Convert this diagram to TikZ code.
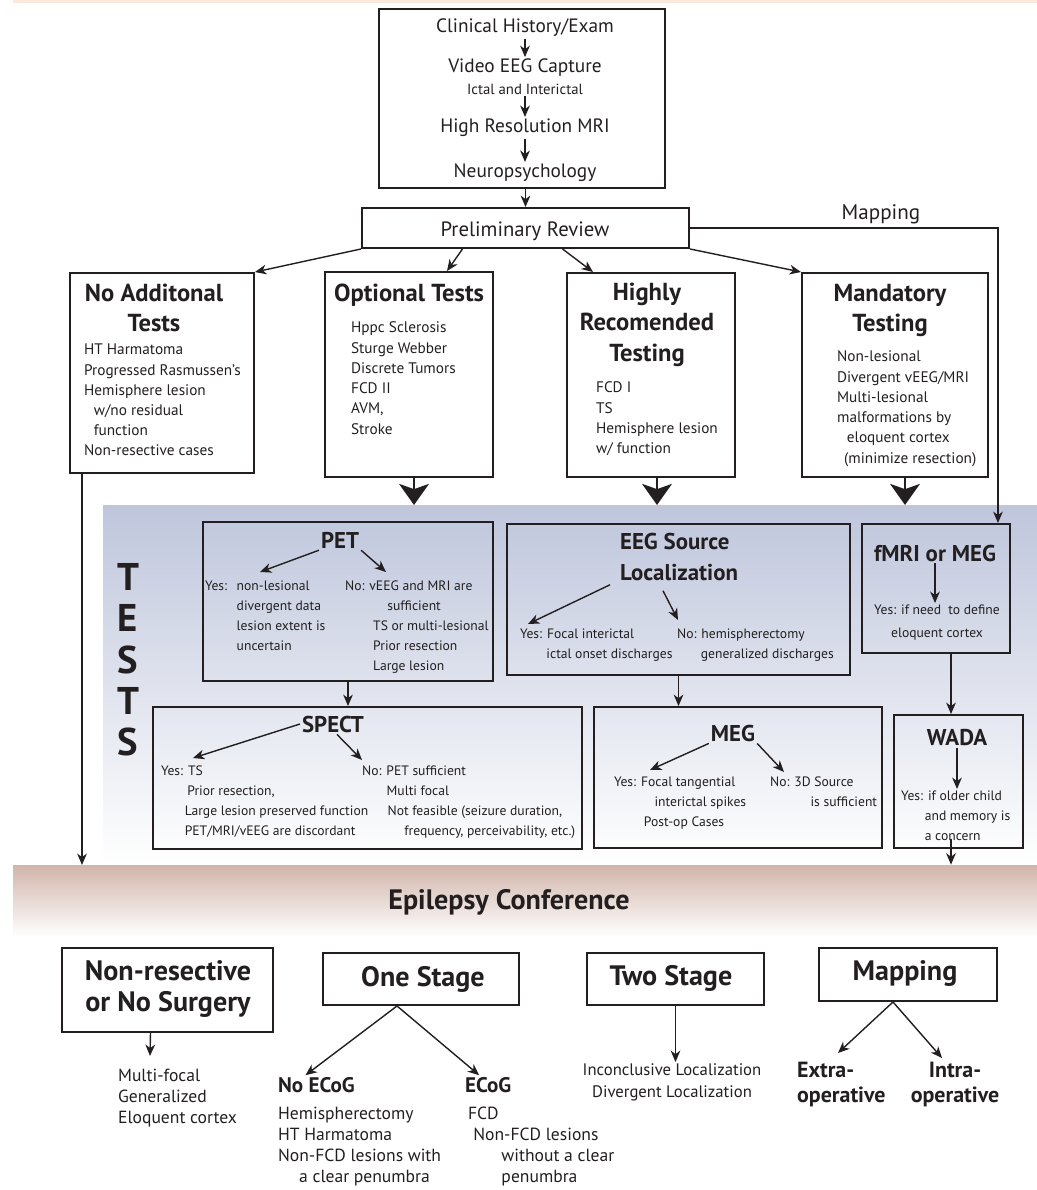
\documentclass[tikz,border=0pt]{standalone}
\usepackage{fontspec}
\setmainfont{PT Sans}
\usetikzlibrary{arrows.meta,positioning,fit,calc}

\definecolor{ink}{RGB}{35,31,32}
\definecolor{testblue}{RGB}{191,198,220}
\definecolor{confrose}{RGB}{209,181,171}
\definecolor{peach}{RGB}{250,232,220}
\newcommand\indt[1]{\hspace*{#1}}

\begin{document}
\begin{tikzpicture}[x=0.02cm,y=-0.02cm,>={Stealth[length=6.5pt,width=5.5pt,inset=2pt]},
  box/.style={draw=ink,line width=1.1pt,inner sep=0pt},
  arr/.style={->,draw=ink,line width=0.8pt},
  bigarr/.style={-{Stealth[length=12pt,width=17pt,inset=3pt]},draw=ink,line width=1.1pt},
  toptxt/.style={text=ink,inner sep=1pt,font=\fontsize{11}{14}\selectfont},
  cathead/.style={text=ink,inner sep=1pt,anchor=north,align=center,font=\bfseries\fontsize{14}{17.3}\selectfont},
  testhead/.style={text=ink,inner sep=1pt,font=\bfseries\fontsize{13}{17.6}\selectfont},
  body/.style={text=ink,inner sep=1pt,anchor=north west,align=left,font=\fontsize{8.7}{11.5}\selectfont},
  tbody/.style={body,font=\fontsize{7.75}{11.4}\selectfont},
  outlbl/.style={text=ink,inner sep=1pt,align=center,font=\bfseries\fontsize{16}{17.6}\selectfont},
  outlist/.style={text=ink,inner sep=1pt,anchor=north west,align=left,font=\fontsize{10}{12}\selectfont},
  outhead/.style={text=ink,inner sep=1pt,anchor=west,font=\bfseries\fontsize{12}{14}\selectfont}]
\useasboundingbox (0,0) rectangle (1037,1190);

% bands
\fill[peach] (13,0) rectangle (1037,3);
\node[fit={(103,505) (1037,863)},inner sep=0pt,top color=testblue,bottom color=white] (tests) {};
\node[fit={(13,865) (1037,937)},inner sep=0pt,top color=confrose,bottom color=white] (conf) {};
\node[text=ink,font=\bfseries\fontsize{16}{18}\selectfont] (conflbl) at (509,902) {Epilepsy Conference};
\node[text=ink,align=center,font=\bfseries\fontsize{22}{23.5}\selectfont] (testslbl) at (128,660) {T\\E\\S\\T\\S};

% work-up
\node[box,fit={(379,9) (665,188)}] (exam) {};
\node[toptxt] (hist) at (525,28) {Clinical History/Exam};
\node[toptxt] (veeg) at (525,68) {Video EEG Capture};
\node[toptxt,font=\fontsize{8.4}{10}\selectfont] (ictal) at (525,89) {Ictal and Interictal};
\node[toptxt] (mri) at (525,128) {High Resolution MRI};
\node[toptxt] (neuro) at (525,173) {Neuropsychology};
\draw[arr] (hist) -- (veeg);
\draw[arr] (ictal) -- (mri);
\draw[arr] (mri) -- (neuro);

\node[box,fit={(362,208) (689,248)}] (pr) {};
\node[toptxt,font=\fontsize{11.8}{14}\selectfont] (prlbl) at (525,231) {Preliminary Review};
\draw[arr] (exam.south -| pr.north) -- (pr.north);

% categories
\node[box,fit={(70,273) (254,473)}] (noadd) {};
\node[cathead] (noaddhd) at (154,282) {No Additonal\\Tests};
\node[body] (noaddtx) at (82,342) {HT Harmatoma\\Progressed Rasmussen's\\Hemisphere lesion\\\indt{5.5pt}w/no residual\\\indt{5.5pt}function\\Non-resective cases};

\node[box,fit={(325,272) (493,477)}] (opt) {};
\node[cathead] (opthd) at (409,282) {Optional Tests};
\node[body] (opttx) at (349,320) {Hppc Sclerosis\\Sturge Webber\\Discrete Tumors\\FCD II\\AVM,\\Stroke};

\node[box,fit={(567,273) (735,477)}] (high) {};
\node[cathead] (highhd) at (647,281) {Highly\\Recomended\\Testing};
\node[body] (hightx) at (594,380) {FCD I\\TS\\Hemisphere lesion\\w/ function};

\node[box,fit={(802,273) (988,477)}] (mand) {};
\node[cathead] (mandhd) at (890,282) {Mandatory\\Testing};
\node[body] (mandtx) at (835,349) {Non-lesional\\Divergent vEEG/MRI\\Multi-lesional\\malformations by\\\indt{5.5pt}eloquent cortex\\\indt{4pt}(minimize resection)};

\draw[arr] (pr.south west) -- (noadd.north east);
\draw[arr] ($(pr.south)+(-63,0)$) -- ($(opt.north)+(38,0)$);
\draw[arr] ($(pr.south)+(37,0)$) -- ($(high.north)+(-58,0)$);
\draw[arr] (pr.south east) -- (mand.north west);

\coordinate (noaddend) at (82,865);
\draw[arr] (noadd.south -| noaddend) -- (noaddend);

\foreach \b/\dx in {opt/5,high/6,mand/10}
  \draw[bigarr] ($(\b.south)+(\dx,0)$) -- ($(\b.south)+(\dx,27)$);

% tests
\node[box,fit={(203,522) (493,681)}] (pet) {};
\node[testhead] (pethd) at (340,540) {PET};
\node[tbody] (petyes) at (203,579) {\makebox[18pt][l]{Yes:}non-lesional\\\indt{18pt}divergent data\\\indt{18pt}lesion extent is\\\indt{18pt}uncertain};
\node[tbody] (petno) at (343,579) {No: vEEG and MRI are\\\indt{24pt}sufficient\\\indt{16pt}TS or multi-lesional\\\indt{16pt}Prior resection\\\indt{16pt}Large lesion};
\draw[arr] (pethd.south west) -- ($(petyes.north west)+(57,-7)$);
\draw[arr] (pethd.south east) -- ($(petno.north west)+(43,-7)$);

\node[box,fit={(507,524) (850,675)}] (eeg) {};
\node[testhead,anchor=north west,align=left] (eeghd) at (618,531) {EEG Source\\Localization};
\node[tbody] (eegyes) at (518,627) {Yes: Focal interictal\\\indt{15pt}ictal onset discharges};
\node[tbody] (eegno) at (675,627) {No: hemispherectomy\\\indt{13.5pt}generalized discharges};
\draw[arr] ($(eeghd.south west)+(-8,2)$) -- ($(eegyes.north west)+(10,-3)$);
\draw[arr] ($(eeghd.south west)+(45,8)$) -- ($(eegno.north west)+(3,-7)$);

\node[box,fit={(862,524) (1010,653)}] (fmri) {};
\node[testhead] (fmrihd) at (935,553) {fMRI or MEG};
\node[tbody,anchor=north,align=center] (fmritx) at (937,603) {Yes: if need\ \ to define\\[1.5pt]eloquent cortex};
\draw[arr] (fmrihd) -- (fmrihd |- fmritx.north);

\draw[arr] (pr.east) -| ($(fmri.north east)+(-13,0)$)
  node[pos=0.31,above,inner sep=2pt,text=ink,font=\fontsize{12}{14}\selectfont] (maplbl) {Mapping};

\node[box,fit={(153,707) (582,849)}] (spect) {};
\node[testhead] (spechd) at (333,724) {SPECT};
\node[tbody] (specyes) at (159,764) {Yes: TS\\\indt{15pt}Prior resection,\\\indt{13.5pt}Large lesion preserved function\\\indt{13.5pt}PET/MRI/vEEG are discordant};
\node[tbody] (specno) at (360,764) {No: PET sufficient\\\indt{14pt}Multi focal\\\indt{14.5pt}Not feasible (seizure duration,\\\indt{24pt}frequency, perceivability, etc.)};
\draw[arr] (spechd.west) -- ($(specyes.north west)+(34,-6)$);
\draw[arr] ($(spechd.south)+(4,0)$) -- ($(specno.north west)+(2,-4)$);
\draw[arr] (pet.south) -- (pet.south |- spect.north);

\node[box,fit={(594,707) (882,848)}] (meg) {};
\node[testhead] (meghd) at (733,733) {MEG};
\node[tbody] (megyes) at (612,775) {Yes: Focal tangential\\\indt{23pt}interictal spikes\\\indt{17pt}Post-op Cases};
\node[tbody] (megno) at (768,775) {No: 3D Source\\\indt{23pt}is sufficient};
\draw[arr] (meghd.south west) -- ($(megyes.north west)+(38,-5)$);
\draw[arr] (meghd.south east) -- ($(megno.north west)+(16,-3)$);
\draw[arr] (eeg.south) -- (eeg.south |- meg.north);

\node[box,fit={(894,715) (1023,848)}] (wada) {};
\node[testhead] (wadahd) at (957,738) {WADA};
\node[tbody] (wadatx) at (899,789) {Yes: if older child\\\indt{13.5pt}and memory is\\\indt{13.5pt}a concern};
\draw[arr] (wadahd) -- (wadahd |- wadatx.north);
\draw[arr] ($(fmri.south)+(15,0)$) coordinate (fmwd) -- (fmwd |- wada.north);
\draw[arr] ($(fmwd |- wada.south)+(0,-10)$) -- (fmwd |- conf.north);

% outcomes
\node[box,fit={(62,948) (273,1032)}] (nonres) {};
\node[outlbl] (nonreslbl) at (168,989) {Non-resective\\or No Surgery};
\node[outlist] (nonrestx) at (116,1067) {Multi-focal\\Generalized\\Eloquent cortex};
\draw[arr] ($(nonres.south)+(-17,0)$) -- ($(nonrestx.north west)+(34,-11)$);

\node[box,fit={(323,953) (519,1005)}] (one) {};
\node[outlbl] (onelbl) at (423,979) {One Stage};
\node[outhead] (noecog) at (276,1085) {No ECoG};
\node[outlist] (noecogtx) at (276,1105) {Hemispherectomy\\HT Harmatoma\\Non-FCD lesions with\\\indt{12pt}a clear penumbra};
\node[outhead] (ecog) at (463,1085) {ECoG};
\node[outlist] (ecogtx) at (466,1105) {FCD\\\indt{3pt}Non-FCD lesions\\\indt{19pt}without a clear\\\indt{19pt}penumbra};
\draw[arr] ($(one.south)+(-24,0)$) -- ($(noecog.north)+(-11,0)$);
\draw[arr] ($(one.south)+(-24,0)$) -- ($(ecog.north)+(-9,0)$);

\node[box,fit={(587,953) (764,1005)}] (two) {};
\node[outlbl] (twolbl) at (671,978) {Two Stage};
\node[outlist,anchor=north,align=center,font=\fontsize{9.5}{12}\selectfont] (twotx) at (672,1062) {Inconclusive Localization\\Divergent Localization};
\draw[arr] (two.south) -- (two.south |- twotx.north);

\node[box,fit={(819,948) (997,1001)}] (mapb) {};
\node[outlbl] (mapblbl) at (905,973) {Mapping};
\node[outlist,font=\bfseries\fontsize{12.5}{14.2}\selectfont] (extra) at (795,1060) {Extra-\\operative};
\node[outlist,anchor=north,align=center,font=\bfseries\fontsize{12.5}{14.2}\selectfont] (intra) at (955,1060) {Intra-\\operative};
\draw[arr] ($(mapb.south)+(-15,0)$) -- ($(extra.north west)+(43,-7)$);
\draw[arr] ($(mapb.south)+(-15,0)$) -- ($(intra.north)+(-13,-2)$);
\end{tikzpicture}
\end{document}
